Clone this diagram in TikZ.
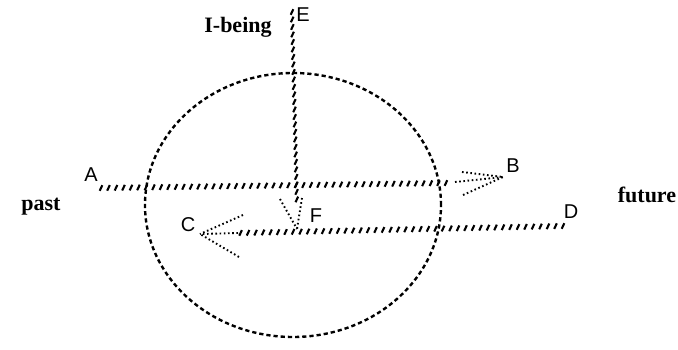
\documentclass[tikz,border=0pt]{standalone}
\usepackage{fontspec}
\setmainfont{Liberation Serif}
\newfontfamily\handfont{Liberation Sans}
\usetikzlibrary{decorations.markings}
\begin{document}
\begin{tikzpicture}[x=1pt,y=-1pt,
  slash/.style={decoration={markings,
      mark=between positions 0 and 1 step 7.5pt with {\pgftransformresetnontranslations
        \draw[line width=2.1pt] (-1.3pt,-2.8pt) -- (1.3pt,2.8pt);}},
      decorate},
  ring/.style={line width=2.4pt, dash pattern=on 4.2pt off 3pt},
  dots/.style={line width=1.9pt, dash pattern=on 1.6pt off 2.6pt},
  letter/.style={font=\handfont\fontsize{20}{22}\selectfont, inner sep=0pt},
  word/.style={font=\fontsize{22}{24}\selectfont\bfseries, inner sep=0pt}]
\useasboundingbox (0,0) rectangle (678,349);

% circle
\draw[ring] (293,205) ellipse [x radius=148pt, y radius=132pt];

% labels
\node[letter] (A) at (91,175) {A};
\node[letter] (B) at (513,166) {B};
\node[letter] (C) at (188,225) {C};
\node[letter] (D) at (571,212) {D};
\node[letter] (E) at (303,15) {E};
\node[letter] (F) at (316,216) {F};
\node[word] (ibeing) at (238,27) {I-being};
\node[word] (past) at (41,207) {past};
\node[word] (future) at (647,195) {future};

% line A -- B
\coordinate (a0) at (101,188);
\coordinate (a1) at (446,183);
\coordinate (btip) at (503,177);
\coordinate (bt) at (462,172);
\coordinate (bm) at (455,182);
\coordinate (bl) at (463,195);
\path[slash] (a0) -- (a1);
\draw[dots] (bt) -- (btip);
\draw[dots] (bm) -- (btip);
\draw[dots] (bl) -- (btip);

% line D -- C
\coordinate (d0) at (563,226);
\coordinate (d1) at (238,233);
\coordinate (ctip) at (200,234);
\coordinate (cu) at (243,215);
\coordinate (cl) at (239,257);
\path[slash] (d0) -- (d1);
\draw[dots] (d1) -- (ctip);
\draw[dots] (cu) -- (ctip);
\draw[dots] (cl) -- (ctip);

% line E -- F
\coordinate (e0) at (292,12);
\coordinate (e1) at (297,206);
\coordinate (ftip) at (297,229);
\coordinate (fl) at (280,199);
\coordinate (fr) at (302,198);
\path[slash] (e0) -- (e1);
\draw[dots] (fl) -- (ftip);
\draw[dots] (fr) -- (ftip);
\end{tikzpicture}
\end{document}
